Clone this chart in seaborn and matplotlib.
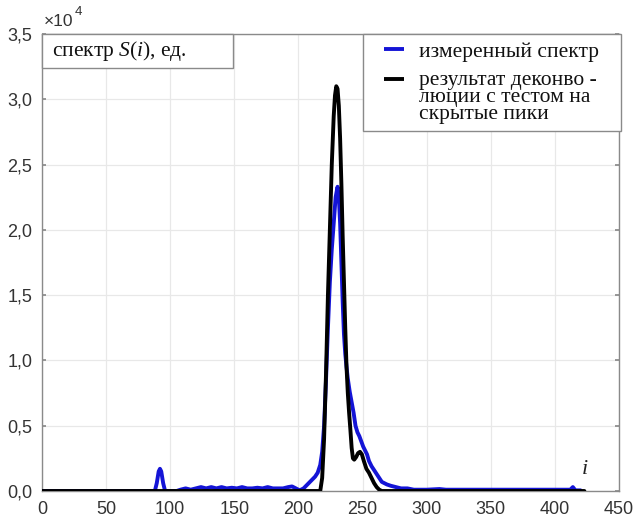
import numpy as np
import pandas as pd
import matplotlib
matplotlib.use("Agg")
import matplotlib.pyplot as plt
import seaborn as sns
from matplotlib.patches import Rectangle
from matplotlib.lines import Line2D
from matplotlib.legend_handler import HandlerLine2D

# ---------------- data (values in units of 1e4) ----------------
blue_i = [0, 88, 89.5, 91, 92, 93, 94.5, 96, 105, 108, 112, 116, 120, 124, 128, 132,
          136, 140, 144, 148, 152, 156, 160, 164, 168, 172, 176, 180, 184, 188, 192,
          195, 198, 201, 204, 207, 210, 213, 215, 217, 218.5, 220, 221.5, 223, 224.5,
          226, 227.5, 229, 230.5, 231.5, 232.5, 233.5, 234.5, 235.5, 236.5, 237.5,
          238.5, 240, 241.5, 243, 244.5, 246, 247.5, 249, 250.5, 252, 253.5, 255,
          257, 259, 261, 263, 265, 267, 269, 272, 276, 280, 285, 290, 300, 310, 315,
          320, 330, 340, 350, 360, 370, 380, 390, 400, 410, 412, 414, 416, 420]
blue_v = [0, 0, 0.06, 0.15, 0.17, 0.15, 0.06, 0, 0, 0.01, 0.02, 0.01, 0.02, 0.03,
          0.02, 0.03, 0.02, 0.03, 0.02, 0.025, 0.02, 0.03, 0.02, 0.02, 0.025, 0.02,
          0.03, 0.02, 0.02, 0.02, 0.03, 0.035, 0.02, 0.005, 0.02, 0.05, 0.08, 0.11,
          0.14, 0.2, 0.3, 0.5, 0.85, 1.25, 1.6, 1.85, 2.05, 2.25, 2.33, 2.25, 2.05,
          1.75, 1.45, 1.2, 1.05, 0.95, 0.86, 0.76, 0.68, 0.6, 0.5, 0.45, 0.42, 0.38,
          0.34, 0.31, 0.28, 0.23, 0.19, 0.16, 0.13, 0.1, 0.07, 0.06, 0.05, 0.04,
          0.03, 0.02, 0.02, 0.01, 0.01, 0.015, 0.01, 0.01, 0.01, 0.01, 0.01, 0.01,
          0.01, 0.01, 0.01, 0.01, 0.01, 0.01, 0.03, 0.005, 0.005]

black_i = [0, 217, 218.5, 220, 221.5, 223, 224.5, 226, 227.5, 228.5, 229.5, 230.5,
           231.5, 232.5, 233.5, 234.5, 235.5, 236.5, 237.5, 238.5, 239.5, 240.5,
           241.5, 242.5, 243.5, 245, 246.5, 248, 249.5, 251, 253, 255, 257, 259,
           261, 263, 265, 423]
black_v = [0, 0, 0.1, 0.4, 0.9, 1.5, 2.0, 2.5, 2.87, 3.03, 3.10, 3.08, 2.95, 2.7,
           2.35, 1.95, 1.6, 1.25, 0.95, 0.75, 0.6, 0.47, 0.33, 0.25, 0.24, 0.26,
           0.29, 0.30, 0.28, 0.23, 0.17, 0.14, 0.10, 0.06, 0.03, 0.01, 0, 0]

x_ticks = [0, 50, 100, 150, 200, 250, 300, 350, 400, 450]
y_ticks = [0.0, 0.5, 1.0, 1.5, 2.0, 2.5, 3.0, 3.5]
y_tick_labels = ["0,0", "0,5", "1,0", "1,5", "2,0", "2,5", "3,0", "3,5"]

label_blue = "измеренный спектр"
label_black = "результат деконво -\nлюции с тестом на\nскрытые пики"
box_title = "спектр $S(i)$, ед."


class IndentedLineHandler(HandlerLine2D):
    """Legend line drawn at the right part of the handle box, optionally raised."""

    def __init__(self, indent=0.0, raise_by=0.0, **kw):
        super().__init__(**kw)
        self.indent = indent
        self.raise_by = raise_by

    def create_artists(self, legend, orig_handle, xdescent, ydescent, width,
                       height, fontsize, trans):
        y = height / 2 - ydescent + self.raise_by * fontsize
        x0 = -xdescent + self.indent * fontsize
        x1 = -xdescent + width
        ln = Line2D([x0, x1], [y, y], color=orig_handle.get_color(),
                    linewidth=orig_handle.get_linewidth(), solid_capstyle="butt")
        ln.set_transform(trans)
        return [ln]


# ---------------- style ----------------
sns.set_theme(style="whitegrid")
plt.rcParams["font.family"] = ["Liberation Sans", "DejaVu Sans"]
plt.rcParams["mathtext.fontset"] = "custom"
plt.rcParams["mathtext.it"] = "Liberation Serif:italic"
plt.rcParams["mathtext.rm"] = "Liberation Serif"

fig = plt.figure(figsize=(6.36, 5.21), dpi=100)
ax = fig.add_axes([42 / 636, 30 / 521, 577 / 636, 457 / 521])

df_b = pd.DataFrame({"i": blue_i, "v": blue_v})
df_k = pd.DataFrame({"i": black_i, "v": black_v})
sns.lineplot(data=df_b, x="i", y="v", color="#1414d6", linewidth=2.8, ax=ax,
             label=label_blue, zorder=3)
sns.lineplot(data=df_k, x="i", y="v", color="black", linewidth=2.8, ax=ax,
             label=label_black, zorder=4)

ax.set_xlim(0, 450)
ax.set_ylim(0, 3.5)
ax.set_xticks(x_ticks)
ax.set_xticklabels([str(t) for t in x_ticks])
ax.set_yticks(y_ticks)
ax.set_yticklabels(y_tick_labels)
ax.set_xlabel("")
ax.set_ylabel("")
ax.grid(True, color="#e8e8e8", linewidth=0.9)
ax.set_facecolor("white")
for s in ax.spines.values():
    s.set_color("#8a8a8a")
    s.set_linewidth(1.0)
ax.tick_params(axis="both", labelsize=13, colors="#333333", length=0)
ax.tick_params(axis="x", pad=7)
ax.tick_params(axis="y", direction="in", length=3, color="#8a8a8a",
               left=True, right=True, pad=7)

# x10^4 offset
ax.text(0.003, 1.012, "×10", transform=ax.transAxes, fontsize=12.5,
        color="#333333", ha="left", va="bottom")
ax.text(0.057, 1.035, "4", transform=ax.transAxes, fontsize=9.5,
        color="#333333", ha="left", va="bottom")

# title box
ax.add_patch(Rectangle((0, 1 - 34 / 457), 191 / 577, 34 / 457, transform=ax.transAxes,
                       facecolor="white", edgecolor="#8a8a8a", linewidth=1.0,
                       zorder=5, clip_on=False))
ax.text(10 / 577, 1 - 17 / 457, box_title, transform=ax.transAxes,
        fontsize=15.5, family="Liberation Serif", ha="left", va="center",
        color="#111111", zorder=6)

# "i" axis label
ax.text(0.941, 0.046, "i", transform=ax.transAxes, fontsize=16,
        family="Liberation Serif", style="italic", ha="center", va="center",
        color="#222222")

handles, labels = ax.get_legend_handles_labels()
hmap = {handles[0]: IndentedLineHandler(indent=0.62, raise_by=0.0),
        handles[1]: IndentedLineHandler(indent=0.62, raise_by=0.84)}
leg = ax.legend(handles, labels, handler_map=hmap,
                loc="upper left", bbox_to_anchor=(321 / 577, 1.0, 258 / 577, 0),
                mode="expand", borderaxespad=0, frameon=True, fancybox=False,
                edgecolor="#8a8a8a", framealpha=1, handlelength=1.55,
                handletextpad=0.7, borderpad=0.35, labelspacing=0.42,
                prop={"family": "Liberation Serif", "size": 15.5})
leg.get_frame().set_linewidth(1.0)
leg.set_zorder(6)
for t in leg.get_texts():
    t.set_linespacing(0.86)
    t.set_color("#111111")

fig.savefig("out.png", dpi=100, facecolor="white")
